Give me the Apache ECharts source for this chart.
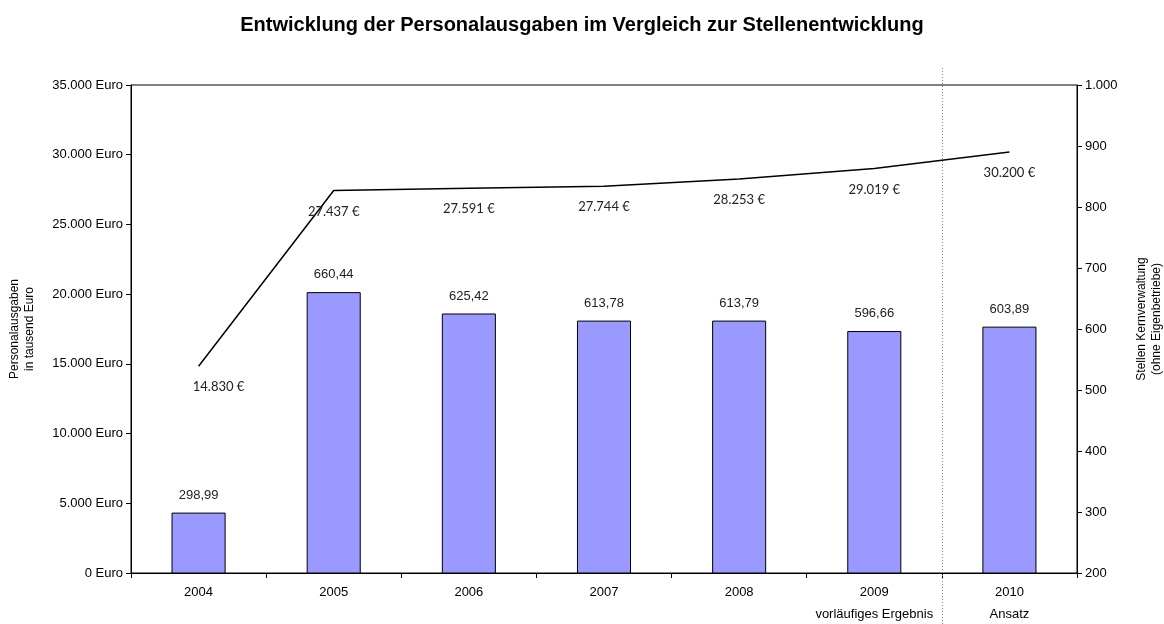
<!DOCTYPE html>
<html>
<head>
<meta charset="utf-8">
<title>Personalausgaben</title>
<script src="https://cdn.jsdelivr.net/npm/echarts@6/dist/echarts.min.js"></script>
<style>
  html, body { margin: 0; padding: 0; background: #fff; }
  #main { width: 1164px; height: 624px; }
</style>
</head>
<body>
<div id="main"></div>
<script>
// Daten
var years = ['2004', '2005', '2006', '2007', '2008', '2009', '2010'];
var yearNotes = ['', '', '', '', '', 'vorläufiges Ergebnis', 'Ansatz'];
var stellen = [298.99, 660.44, 625.42, 613.78, 613.79, 596.66, 603.89];
var ausgaben = [14830, 27437, 27591, 27744, 28253, 29019, 30200];

var FONT = '"Liberation Sans", Arial, sans-serif';

// Tausenderpunkt
function dePunkt(n) {
    return String(Math.round(n)).replace(/\B(?=(\d{3})+(?!\d))/g, '.');
}

var lineData = ausgaben.map(function (v, i) {
    var item = {value: v};
    if (i == 0) item.label = {offset: [20, 0]};
    return item;
});

var chart = echarts.init(document.getElementById('main'));

var option = {
    animation: false,
    backgroundColor: '#fff',
    title: {
        text: 'Entwicklung der Personalausgaben im Vergleich zur Stellenentwicklung',
        left: 'center',
        top: 10,
        textStyle: {fontFamily: FONT, fontSize: 20, fontWeight: 'bold', color: '#000'}
    },
    grid: {
        left: 131, right: 87, top: 85, bottom: 51,
        outerBoundsMode: 'none',
        show: true, borderColor: '#000', borderWidth: 1, backgroundColor: 'transparent'
    },
    xAxis: {
        type: 'category',
        data: years,
        axisLine: {lineStyle: {color: '#000', width: 1}},
        axisTick: {show: true, length: 5, lineStyle: {color: '#000'}},
        axisLabel: {
            margin: 12,
            interval: 0,
            formatter: function (val, idx) {
                return '{y|' + val + '}\n{n|' + (yearNotes[idx] || ' ') + '}';
            },
            rich: {
                y: {fontFamily: FONT, fontSize: 13, color: '#000', lineHeight: 14},
                n: {fontFamily: FONT, fontSize: 13, color: '#000', lineHeight: 30}
            }
        }
    },
    yAxis: [
        {
            type: 'value',
            min: 0, max: 35000, interval: 5000,
            name: 'Personalausgaben\nin tausend Euro',
            nameLocation: 'middle',
            nameGap: 94,
            nameTextStyle: {fontFamily: FONT, fontSize: 12, color: '#000', lineHeight: 15},
            axisLine: {show: true, lineStyle: {color: '#000'}},
            axisTick: {show: true, length: 5, lineStyle: {color: '#000'}},
            splitLine: {show: false},
            axisLabel: {
                margin: 8,
                fontFamily: FONT, fontSize: 13, color: '#000',
                formatter: function (v) { return dePunkt(v) + ' Euro'; }
            }
        },
        {
            type: 'value',
            min: 200, max: 1000, interval: 100,
            name: 'Stellen Kernverwaltung\n(ohne Eigenbetriebe)',
            nameLocation: 'middle',
            nameGap: 57,
            nameTextStyle: {fontFamily: FONT, fontSize: 12, color: '#000', lineHeight: 15, padding: [0, 0, 0, 20]},
            axisLine: {show: true, lineStyle: {color: '#000'}},
            axisTick: {show: true, length: 5, lineStyle: {color: '#000'}},
            splitLine: {show: false},
            axisLabel: {
                margin: 8,
                fontFamily: FONT, fontSize: 13, color: '#000',
                formatter: function (v) { return dePunkt(v); }
            }
        }
    ],
    series: [
        {
            name: 'Stellen',
            type: 'bar',
            yAxisIndex: 1,
            data: stellen,
            barWidth: '40%',
            itemStyle: {color: '#9999ff', borderColor: '#000', borderWidth: 1},
            label: {
                show: true,
                position: 'top',
                distance: 11,
                fontFamily: FONT, fontSize: 13, color: '#222',
                formatter: function (p) { return p.value.toFixed(2).replace('.', ','); }
            }
        },
        {
            name: 'Personalausgaben',
            type: 'line',
            yAxisIndex: 0,
            data: lineData,
            symbol: 'circle',
            symbolSize: 1,
            showSymbol: true,
            itemStyle: {color: 'rgba(0,0,0,0)'},
            lineStyle: {color: '#000', width: 1.5},
            label: {
                show: true,
                position: 'bottom',
                distance: 14,
                fontFamily: 'Lato, ' + FONT, fontSize: 13, color: '#222',
                formatter: function (p) { return dePunkt(p.value) + ' €'; }
            }
        }
    ]
};

chart.setOption(option);

// gepunktete Trennlinie zwischen 2009 und 2010
var x1 = chart.convertToPixel({xAxisIndex: 0}, '2009');
var x2 = chart.convertToPixel({xAxisIndex: 0}, '2010');
var xm = Math.round((x1 + x2) / 2) + 0.5;
chart.setOption({
    graphic: [{
        type: 'line',
        shape: {x1: xm, y1: 68, x2: xm, y2: 624},
        style: {stroke: '#888', lineWidth: 1, lineDash: [1, 2]},
        z: 10
    }]
});
</script>
</body>
</html>
